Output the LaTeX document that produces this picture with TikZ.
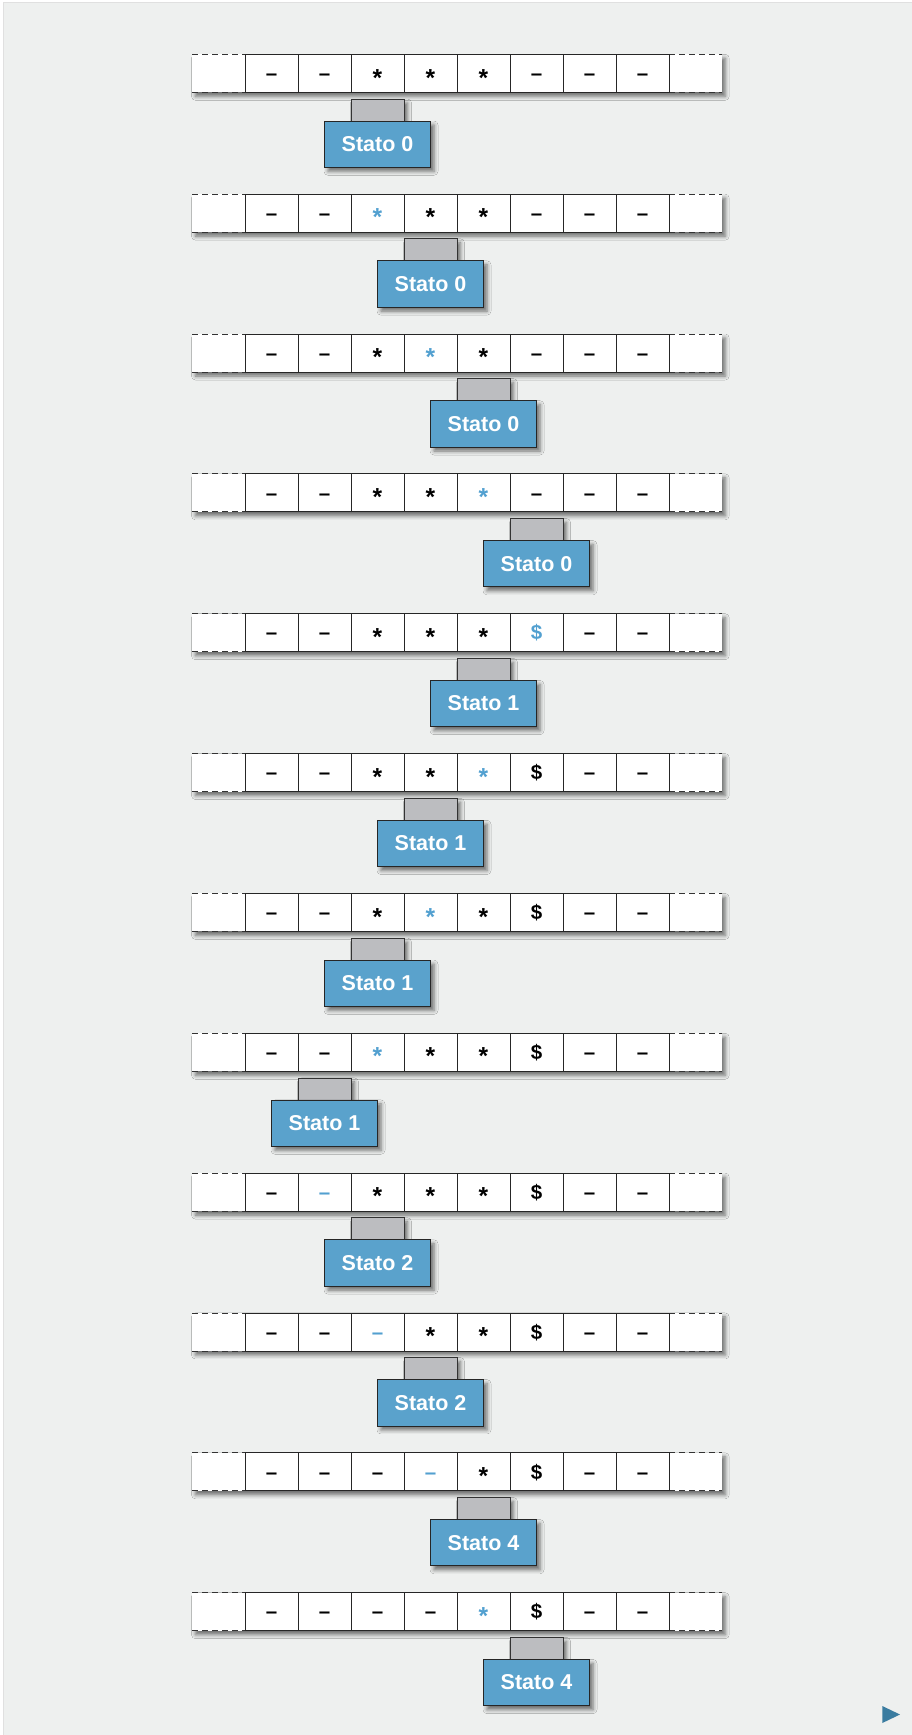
\documentclass[tikz,border=0pt]{standalone}
\usepackage{fontspec}
\setmainfont{Liberation Sans}
\usetikzlibrary{shadows.blur}
\definecolor{panel}{RGB}{238,240,239}
\definecolor{statoblue}{RGB}{90,162,204}
\definecolor{headgray}{RGB}{188,189,192}
\definecolor{markblue}{RGB}{82,160,208}
\definecolor{nextblue}{RGB}{58,124,160}

% tape symbols (lower case: normal, upper case: just written)
\newcommand\symd{\textendash}
\newcommand\syms{\raisebox{-0.27em}{\scalebox{1.2}{*}}}
\newcommand\symm{\$}
\newcommand\symD{\textcolor{markblue}{\textendash}}
\newcommand\symS{\textcolor{markblue}{\raisebox{-0.27em}{\scalebox{1.2}{*}}}}
\newcommand\symM{\textcolor{markblue}{\$}}

\begin{document}
\begin{tikzpicture}[x=1pt, y=-1pt,
    shade/.style={blur shadow={shadow xshift=3.5pt, shadow yshift=-4pt, shadow blur radius=4pt, shadow opacity=55}},
    tape/.style={fill=white, shade},
    ends/.style={draw=black!80, line width=0.8pt, dash pattern=on 6pt off 4pt},
    cell/.style={rectangle, draw=black!85, line width=0.9pt, fill=white, minimum width=53pt, minimum height=38pt, inner sep=0pt, text height=14.4pt, text depth=0pt, font=\fontsize{20.5}{24}\selectfont\bfseries},
    head/.style={rectangle, draw=black!80, line width=0.8pt, fill=headgray, minimum width=53pt, minimum height=22pt, inner sep=0pt, shade},
    stato/.style={rectangle, draw=black!85, line width=0.9pt, fill=statoblue, text=white, minimum width=106pt, minimum height=46.3pt, inner sep=0pt, font=\fontsize{21.5}{25}\selectfont\bfseries, shade}]

    \useasboundingbox (0,0) rectangle (912,1735);

    % Background panel
    \fill[panel] (3,2) rectangle (912,1735);
    \draw[black!12, line width=0.6pt] (3,1735) -- (3,2) -- (912,2);

    % One tape per step: row / head cell / state / tape contents
    \foreach \r/\h/\st/\cells in {
        0/2/0/{d,d,s,s,s,d,d,d},
        1/3/0/{d,d,S,s,s,d,d,d},
        2/4/0/{d,d,s,S,s,d,d,d},
        3/5/0/{d,d,s,s,S,d,d,d},
        4/4/1/{d,d,s,s,s,M,d,d},
        5/3/1/{d,d,s,s,S,m,d,d},
        6/2/1/{d,d,s,S,s,m,d,d},
        7/1/1/{d,d,S,s,s,m,d,d},
        8/2/2/{d,D,s,s,s,m,d,d},
        9/3/2/{d,d,D,s,s,m,d,d},
        10/4/4/{d,d,d,D,s,m,d,d},
        11/5/4/{d,d,d,d,S,m,d,d}} {
        \pgfmathsetmacro\y{73.3+139.85*\r}

        % Tape with open ends
        \fill[tape] (192,\y-19) rectangle (721.7,\y+19);
        \draw[ends] (192,\y-19) -- (245,\y-19);
        \draw[ends] (192,\y+19) -- (245,\y+19);
        \draw[ends] (669,\y-19) -- (721.7,\y-19);
        \draw[ends] (669,\y+19) -- (721.7,\y+19);

        % Cells
        \foreach \c [count=\i from 0] in \cells {
            \node[cell] (c\r-\i) at (271.5+53*\i,\y) {\csname sym\c\endcsname};
        }

        % Head
        \node[head] (h\r) at (271.5+53*\h,\y+36.7) {};
        \node[stato] (s\r) at (271.5+53*\h,\y+70.85) {Stato \st};
    }

    % Next page marker
    \fill[nextblue] (882.3,1706) -- (900,1714.5) -- (882.3,1723) -- cycle;

\end{tikzpicture}
\end{document}
